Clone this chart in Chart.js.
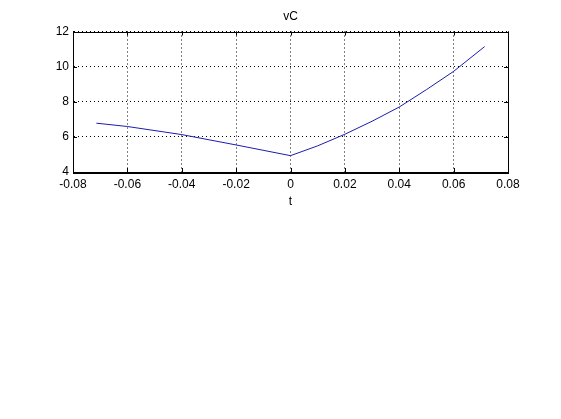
<!DOCTYPE html>
<html lang="en">
<head>
    <meta charset="UTF-8">
    <title>vC</title>
    <script src="https://cdn.jsdelivr.net/npm/chart.js"></script>
    <style>
        html, body { margin: 0; padding: 0; background: #fff; }
        canvas { display: block; }
    </style>
</head>
<body>
    <canvas id="vcChart" width="561" height="419"></canvas>
    <script>
        // valores
        var tValues = [-0.0714, -0.06, -0.04, -0.02, 0, 0.01, 0.02, 0.03, 0.04, 0.05, 0.06, 0.0714];
        var vcValues = [6.78, 6.59, 6.13, 5.54, 4.93, 5.49, 6.15, 6.89, 7.7, 8.69, 9.73, 11.14];

        var xTicks = [-0.08, -0.06, -0.04, -0.02, 0, 0.02, 0.04, 0.06, 0.08];
        var yTicks = [4, 6, 8, 10, 12];

        var points = tValues.map(function (t, i) { return { x: t, y: vcValues[i] }; });

        var fontAxis = { family: '"Liberation Sans", Arial, sans-serif', size: 12 };

        // caja completa y marcas hacia dentro, estilo MATLAB
        var boxPlugin = {
            id: 'box',
            afterDraw: function (chart) {
                var ctx = chart.ctx, a = chart.chartArea;
                var xs = chart.scales.x, ys = chart.scales.y;
                ctx.save();
                ctx.strokeStyle = '#000';
                ctx.lineWidth = 1;
                ctx.beginPath();
                xs.ticks.forEach(function (tk) {
                    var px = Math.round(xs.getPixelForValue(tk.value)) + 0.5;
                    ctx.moveTo(px, a.bottom); ctx.lineTo(px, a.bottom - 4);
                    ctx.moveTo(px, a.top); ctx.lineTo(px, a.top + 4);
                });
                ys.ticks.forEach(function (tk) {
                    var py = Math.round(ys.getPixelForValue(tk.value)) + 0.5;
                    ctx.moveTo(a.left, py); ctx.lineTo(a.left + 4, py);
                    ctx.moveTo(a.right, py); ctx.lineTo(a.right - 4, py);
                });
                ctx.stroke();
                ctx.strokeRect(Math.round(a.left) + 0.5, Math.round(a.top) + 0.5,
                    Math.round(a.right - a.left), Math.round(a.bottom - a.top));
                ctx.restore();
            }
        };

        var vcChart = new Chart(document.getElementById('vcChart').getContext('2d'), {
            type: 'scatter',
            data: {
                datasets: [{
                    label: 'vC',
                    data: points,
                    showLine: true,
                    borderColor: '#1c1cb0',
                    borderWidth: 1,
                    pointRadius: 0,
                    tension: 0,
                    fill: false
                }]
            },
            options: {
                responsive: false,
                animation: false,
                layout: { padding: { left: 0, right: 53, top: 0, bottom: 207 } },
                plugins: {
                    legend: { display: false },
                    tooltip: { enabled: false },
                    title: { display: false }
                },
                scales: {
                    x: {
                        type: 'linear',
                        min: -0.08,
                        max: 0.08,
                        afterFit: function (s) { s.height = 40; },
                        afterBuildTicks: function (s) { s.ticks = xTicks.map(function (v) { return { value: v }; }); },
                        ticks: {
                            color: '#000',
                            font: fontAxis,
                            padding: 5,
                            maxRotation: 0,
                            callback: function (v) { return String(Math.round(v * 100) / 100); }
                        },
                        grid: { color: '#000', lineWidth: 1, drawTicks: false },
                        border: { display: true, color: '#000', dash: [1, 3] },
                        title: { display: true, text: 't', color: '#000', font: fontAxis, padding: { top: 0, bottom: 3 } }
                    },
                    // eje superior solo para el titulo, centrado sobre el area de la grafica
                    x2: {
                        type: 'linear',
                        position: 'top',
                        min: -0.08,
                        max: 0.08,
                        afterFit: function (s) { s.height = 31.5; },
                        ticks: { display: false },
                        grid: { display: false, drawTicks: false },
                        border: { display: false },
                        title: { display: true, text: 'vC', color: '#000', font: fontAxis, padding: { top: 9.4, bottom: 0 } }
                    },
                    y: {
                        type: 'linear',
                        min: 4,
                        max: 12,
                        afterFit: function (s) { s.width = 73; },
                        afterBuildTicks: function (s) { s.ticks = yTicks.map(function (v) { return { value: v }; }); },
                        ticks: { color: '#000', font: fontAxis, padding: 4 },
                        grid: { color: '#000', lineWidth: 1, drawTicks: false },
                        border: { display: true, color: '#000', dash: [1, 3] }
                    }
                }
            },
            plugins: [boxPlugin]
        });
    </script>
</body>
</html>
